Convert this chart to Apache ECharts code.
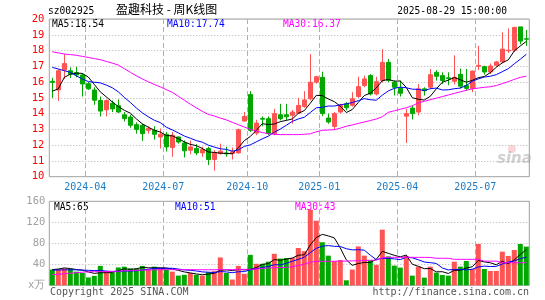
<!DOCTYPE html>
<html>
<head>
<meta charset="utf-8">
<script src="https://cdn.jsdelivr.net/npm/echarts@6/dist/echarts.min.js"></script>
<style>
html,body{margin:0;padding:0;background:#fff;}
#c{width:545px;height:300px;}
</style>
</head>
<body>
<div id="c"></div>
<script>
// Weekly trading weeks (week-ending dates)
const dates = [
'2024-02-23','2024-03-01','2024-03-08','2024-03-15','2024-03-22','2024-03-29','2024-04-03','2024-04-12','2024-04-19','2024-04-26',
'2024-04-30','2024-05-10','2024-05-17','2024-05-24','2024-05-31','2024-06-07','2024-06-14','2024-06-21','2024-06-28','2024-07-05',
'2024-07-12','2024-07-19','2024-07-26','2024-08-02','2024-08-09','2024-08-16','2024-08-23','2024-08-30','2024-09-06','2024-09-13',
'2024-09-20','2024-09-27','2024-09-30','2024-10-11','2024-10-18','2024-10-25','2024-11-01','2024-11-08','2024-11-15','2024-11-22',
'2024-11-29','2024-12-06','2024-12-13','2024-12-20','2024-12-27','2025-01-03','2025-01-10','2025-01-17','2025-01-24','2025-01-27',
'2025-02-07','2025-02-14','2025-02-21','2025-02-28','2025-03-07','2025-03-14','2025-03-21','2025-03-28','2025-04-03','2025-04-11',
'2025-04-18','2025-04-25','2025-04-30','2025-05-09','2025-05-16','2025-05-23','2025-05-30','2025-06-06','2025-06-13','2025-06-20',
'2025-06-27','2025-07-04','2025-07-11','2025-07-18','2025-07-25','2025-08-01','2025-08-08','2025-08-15','2025-08-22','2025-08-29'
];
const opens = [
16.05,15.50,16.76,16.72,16.60,16.45,15.90,15.50,14.83,14.24,
14.66,14.50,13.93,13.78,13.30,13.26,12.94,12.94,12.52,12.69,
11.85,12.52,12.14,11.68,11.79,11.51,11.79,11.09,11.47,11.50,
11.47,11.51,13.53,15.21,12.77,13.70,13.68,12.73,13.93,13.93,
13.89,14.03,14.45,14.94,15.99,16.30,13.72,13.19,14.10,14.62,
14.52,15.08,15.78,16.41,15.25,16.10,17.25,15.99,15.61,13.84,
14.35,14.10,15.57,15.67,16.62,16.41,16.27,16.05,16.49,15.78,
15.60,17.00,16.98,16.64,17.06,17.28,17.98,18.02,19.50,18.75
];
const closes = [
15.98,16.72,17.18,16.50,16.45,15.88,15.57,14.85,14.16,14.83,
14.30,14.10,13.68,13.26,13.00,12.73,13.05,12.69,12.69,11.89,
12.63,12.20,11.64,11.89,11.51,11.72,11.09,11.51,11.62,11.45,
11.58,12.98,13.82,12.94,13.40,13.65,12.73,14.00,13.68,13.80,
14.10,14.52,14.87,15.99,16.34,14.00,13.47,14.00,14.52,14.37,
14.94,15.71,16.20,15.25,16.03,17.25,16.10,15.67,15.29,14.00,
14.00,15.57,15.45,16.47,16.37,16.10,16.22,16.30,15.74,15.60,
16.70,17.06,16.64,17.02,17.28,18.09,18.02,19.47,18.60,18.72
];
const highs = [
16.27,16.80,17.77,16.93,16.97,16.55,16.00,15.67,15.08,14.90,
14.83,14.90,14.10,13.93,13.45,13.36,13.20,13.20,13.05,12.84,
12.84,12.55,12.30,12.30,12.06,11.90,11.90,11.68,12.10,11.90,
11.85,13.05,14.10,15.42,13.61,13.82,13.82,14.30,14.62,14.62,
14.24,15.00,15.42,17.77,16.40,16.66,14.00,14.10,14.62,14.73,
15.36,16.34,16.41,16.50,16.34,18.09,17.46,16.10,16.10,14.30,
14.52,15.88,15.67,16.83,16.76,16.62,16.62,17.70,16.85,16.83,
16.72,18.30,17.04,17.18,17.35,19.15,19.40,19.50,19.50,19.30
];
const lows = [
15.00,14.80,16.20,16.26,16.30,15.08,15.50,14.56,13.82,13.82,
14.10,14.05,13.50,13.10,12.73,12.27,12.73,12.35,11.79,11.60,
11.26,12.10,11.22,11.43,11.37,11.26,10.74,10.38,11.40,11.26,
11.09,11.47,13.50,12.84,12.63,13.20,12.63,12.63,13.57,13.57,
13.36,13.99,14.37,14.83,15.90,13.84,13.36,12.98,14.00,14.20,
14.45,15.00,15.67,15.15,15.15,15.99,15.99,15.15,15.08,12.14,
13.63,13.89,15.15,15.57,16.10,15.88,15.80,15.85,15.60,15.46,
15.36,16.76,16.47,16.51,16.98,17.20,17.85,17.90,18.40,18.30
];
// weekly volume (万手)
const volumes = [
30,31,32,31,26,23.5,15,18,37,27,
23.5,34,35.5,32,32,37,30,35.5,33,30,
26,18.5,20,23.5,20,18.5,25,27,53,23.5,
11,37,22,58,41,41,45,60,51,52,
52,71,65,144,123,82,56.5,46,48,9.5,
30,74,56.5,48,39,106,55,37.5,33.7,55.9,
18.4,35.6,14.6,35.6,24.1,19.7,18.4,45,35.6,46.3,
31.1,78.7,31.1,27.3,27.3,64.1,55.9,67.3,78.7,73.7
];
// Moving-average values visible before enough in-window weeks exist
const ma5Head = [15.42,15.57,16.30,16.50];
const ma10Head = [16.93,16.83,16.72,16.62,16.40,16.20,16.03,15.99,15.95];
const ma30 = [
17.92,17.85,17.78,17.74,17.70,17.63,17.56,17.49,17.42,17.31,
17.20,17.08,16.85,16.62,16.40,16.20,16.02,15.85,15.70,15.52,
15.35,15.10,14.85,14.60,14.37,14.15,13.95,13.85,13.72,13.60,
13.45,13.30,13.15,13.00,12.90,12.80,12.73,12.69,12.67,12.67,
12.67,12.67,12.69,12.72,12.85,12.94,12.96,12.98,13.08,13.20,
13.28,13.38,13.47,13.56,13.66,13.80,14.08,14.18,14.28,14.37,
14.50,14.68,14.78,14.88,14.98,15.08,15.18,15.28,15.38,15.48,
15.57,15.62,15.67,15.70,15.78,15.90,16.03,16.17,16.30,16.37
];
const volMa5Head = [30,31,33,32];
const volMa10Head = [29,29,29.5,29.5,29.5,29,28.5,28,28.5];
const volMa30 = [
20.3,21,22,23,24,25,25.5,26,26,26,
26.5,27,27.5,28,28.5,29,29.2,29.5,29.8,29.8,
29.8,29.8,29.8,29.8,29.7,29.6,29.6,29.7,29.8,29.8,
29.8,30,30.3,30.6,31,32,33,33.5,33.8,34,
35.5,37.5,40.5,44,45.7,45.7,45.7,45.8,46,46.2,
46.5,46.8,47.2,47.6,48,52.5,53.3,53.3,53.3,53.3,
53.3,53.2,53.2,53,51.5,51.5,51.5,49.5,49.5,49.5,
49.5,49.5,46,46,46,43,43,43,43,43
];
const priceTicks = {min:10, max:20, interval:1};
const volTicks = {min:0, max:160, interval:40};

function movingAvg(arr, n, head){
  return arr.map((v,i)=>{
    if (i < n-1) return head[i];
    let s=0; for(let j=i-n+1;j<=i;j++) s+=arr[j];
    return +(s/n).toFixed(2);
  });
}
const ma5 = movingAvg(closes,5,ma5Head);
const ma10 = movingAvg(closes,10,ma10Head);
const vma5 = movingAvg(volumes,5,volMa5Head);
const vma10 = movingAvg(volumes,10,volMa10Head);

const UP='#ff5454', DOWN='#00a800';
const kData = dates.map((d,i)=>[opens[i],closes[i],lows[i],highs[i]]);
const volData = volumes.map((v,i)=>({value:v,itemStyle:{color: closes[i]>=opens[i]?UP:DOWN}}));

function isQuarterStart(idx){
  if(idx===0) return false;
  const m = dates[idx].slice(5,7), pm = dates[idx-1].slice(5,7);
  return m!==pm && ['01','04','07','10'].includes(m);
}
const MONO='DejaVu Sans Mono';
const GL=49.3, GW=480;

const chart = echarts.init(document.getElementById('c'),null,{renderer:'canvas'});
const txt = (x,y,t,color,extra)=>Object.assign({type:'text',left:x,top:y,style:{text:t,fill:color,font:'9.6px "'+MONO+'"'}},extra||{});
chart.setOption({
  animation:false,
  backgroundColor:'#fff',
  grid:[
    {left:GL,top:19,width:GW,height:157.7,show:true,borderColor:'#a0a0a0',borderWidth:1,backgroundColor:'transparent'},
    {left:GL,top:201.3,width:GW,height:84,show:true,borderColor:'#a0a0a0',borderWidth:1,backgroundColor:'transparent'}
  ],
  xAxis:[
    {type:'category',gridIndex:0,data:dates,boundaryGap:true,
     axisLine:{show:false},axisTick:{show:false},
     axisLabel:{interval:(i)=>isQuarterStart(i),formatter:(v)=>v.slice(0,7),color:'#1b7cc6',
       fontFamily:MONO,fontSize:10,margin:6,padding:[0,6,0,0]},
     splitLine:{show:true,interval:(i)=>isQuarterStart(i),lineStyle:{color:'#b0b0b0',type:[5,3],width:1}}},
    {type:'category',gridIndex:1,data:dates,boundaryGap:true,
     axisLine:{show:false},axisTick:{show:false},axisLabel:{show:false},
     splitLine:{show:true,interval:(i)=>isQuarterStart(i),lineStyle:{color:'#b0b0b0',type:[5,3],width:1}}}
  ],
  yAxis:[
    {type:'value',gridIndex:0,min:priceTicks.min,max:priceTicks.max,interval:priceTicks.interval,
     axisLine:{show:false},axisTick:{show:false},
     axisLabel:{color:'#ff0000',fontFamily:MONO,fontSize:10.5,margin:5},
     splitLine:{show:true,lineStyle:{color:'#b4b4b4',type:[1,2],width:1}}},
    {type:'value',gridIndex:1,min:volTicks.min,max:volTicks.max,interval:volTicks.interval,
     axisLine:{show:false},axisTick:{show:false},
     axisLabel:{color:'#a0a0a0',fontFamily:MONO,fontSize:10.5,margin:4,
       formatter:(v)=>v===0?'x万':String(v)},
     splitLine:{show:true,lineStyle:{color:'#b4b4b4',type:[1,2],width:1}}}
  ],
  series:[
    {type:'candlestick',xAxisIndex:0,yAxisIndex:0,data:kData,barWidth:5,
     itemStyle:{color:UP,color0:DOWN,borderColor:UP,borderColor0:DOWN,borderWidth:1}},
    {type:'line',xAxisIndex:0,yAxisIndex:0,data:ma5,showSymbol:false,lineStyle:{color:'#000',width:1},z:5},
    {type:'line',xAxisIndex:0,yAxisIndex:0,data:ma10,showSymbol:false,lineStyle:{color:'#0000ff',width:1},z:5},
    {type:'line',xAxisIndex:0,yAxisIndex:0,data:ma30,showSymbol:false,lineStyle:{color:'#ff00ff',width:1},z:5},
    {type:'bar',xAxisIndex:1,yAxisIndex:1,data:volData,barWidth:5},
    {type:'line',xAxisIndex:1,yAxisIndex:1,data:vma5,showSymbol:false,lineStyle:{color:'#000',width:1},z:5},
    {type:'line',xAxisIndex:1,yAxisIndex:1,data:vma10,showSymbol:false,lineStyle:{color:'#0000ff',width:1},z:5},
    {type:'line',xAxisIndex:1,yAxisIndex:1,data:volMa30,showSymbol:false,lineStyle:{color:'#ff00ff',width:1},z:5}
  ],
  graphic:[
    txt(48,6,'sz002925','#000'),
    {type:'text',left:116,top:3.5,style:{text:'盈趣科技 - 周K线图',fill:'#000',font:'12px "Noto Sans CJK SC"'}},
    {type:'text',right:38,top:6,style:{text:'2025-08-29 15:00:00',fill:'#000',font:'9.6px "'+MONO+'"'}},
    txt(52,19.5,'MA5:18.54','#000'),
    txt(167,19.5,'MA10:17.74','#0000ff'),
    txt(283,19.5,'MA30:16.37','#ff00ff'),
    txt(54,202,'MA5:65','#000'),
    txt(175,202,'MA10:51','#0000ff'),
    txt(295,202,'MA30:43','#ff00ff'),
    {type:'text',left:50,top:287.5,style:{text:'Copyright 2025 SINA.COM',fill:'#555',font:'10px "'+MONO+'"'}},
    {type:'text',right:16,top:287.5,style:{text:'http://finance.sina.com.cn',fill:'#555',font:'10px "'+MONO+'"'}},
    {type:'text',left:497,top:152,z:0,style:{text:'sina',fill:'rgba(150,150,150,0.45)',font:'italic bold 15px "DejaVu Sans"'}},
    {type:'circle',left:508,top:145,z:0,shape:{r:4},style:{fill:'rgba(240,120,120,0.3)'}}
  ]
});
</script>
</body>
</html>
